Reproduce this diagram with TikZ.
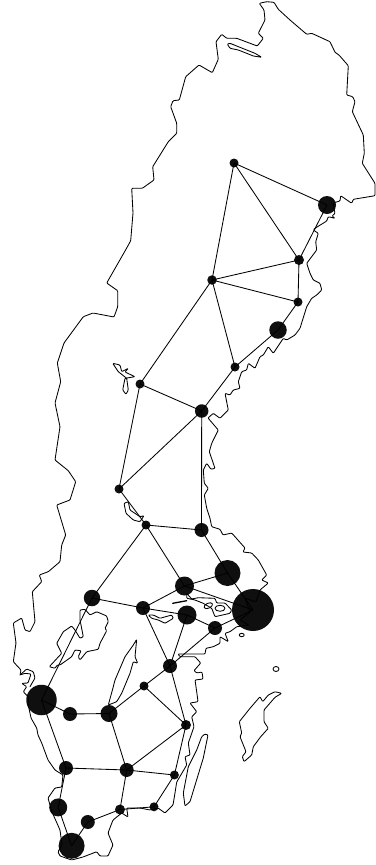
\documentclass[tikz,border=0pt]{standalone}
\definecolor{hubfill}{HTML}{0F0F0F}
\tikzset{
  hub/.style={circle,fill=hubfill,draw=none,inner sep=0pt,outer sep=0pt,minimum size=#1},
  link/.style={draw=black,line width=0.85pt},
  coast/.style={draw=black,line width=0.85pt,line join=round,line cap=round,rounded corners=0.9pt},
}
\begin{document}
\begin{tikzpicture}[x=1pt,y=-1pt]
\useasboundingbox (0,0) rectangle (375,865);
\fill[white] (0,0) rectangle (375,865);
% hubs
\foreach \n/\x/\y/\d in {
 a/234/163/9, b/327/205/18, c/299/260/10, d/298/302/9, e/212/280/9.5, f/278/330/17.5,
 g/235/367/9, h/140/384/9, i/201.7/411/13.5, j/119/489/9, k/146/525/9, l/201.5/530/14,
 m/227.5/573/26, n/184.5/586/19, o/92/598/16.5, p/143/608/14, q/187/615/19, r/253/610/42,
 s/215/628/14, t/170/666/14, u/144/686/9, v/41.5/700/30.5, w/70/714/14, x/109/713.5/17,
 y/186/725/10, z/66/768/14, aa/126.7/770/14, ab/174.4/775/9, ac/58.2/807.4/18, ad/87.8/822/14,
 ae/120/809.5/10, af/154/806.8/9, ag/71.6/845.8/26}
 {\node[hub=\d pt] (\n) at (\x,\y) {};}
% links
\foreach \s/\t in {a/b,a/c,a/e,b/c,c/e,c/d,d/e,d/f,e/g,e/h,f/g,g/i,h/i,h/j,i/j,i/l,j/k,k/l,k/o,k/n,
 l/m,m/n,m/r,n/p,n/r,o/p,p/q,q/s,s/r,p/t,q/t,s/t,o/v,t/u,t/y,u/x,u/y,v/w,v/z,w/x,x/aa,y/aa,y/ab,
 z/aa,aa/ab,z/ac,aa/ae,ab/af,ac/ag,ad/ag,ad/ae,ae/af}
 {\draw[link] (\s.center) -- (\t.center);}
% mainland
\draw[coast] (259.3,3.3) -- (266.7,1.7) -- (274,2.3) -- (278.3,9.3) -- (290,20) -- (306.7,34.3) -- (311.7,33.3)
 -- (330,41.7) -- (335,52.3) -- (339,55) -- (348.3,65.7) -- (346.7,95) -- (352.7,96.7) -- (355,101.7)
 -- (352.3,111.7) -- (363.3,135) -- (364.3,153.3) -- (362.3,163.3) -- (375,183.3) -- (375,195.7)
 -- (353.3,199.3) -- (351.7,203.3) -- (340.7,195.7) -- (340,201) -- (333,203)
 -- (335,213.3) -- (332,216) -- (335,218.3) -- (328.3,216.7) -- (326.7,221) -- (315,228.3) -- (313.3,230) -- (318.3,233.3)
 -- (315.7,241.7) -- (316.7,250) -- (306.7,263.3) -- (310,273.3) -- (313.3,280) -- (320,283.3) -- (321.7,290)
 -- (316.7,295) -- (311.7,298.3) -- (306.7,306.7) -- (300,328.3) -- (295,335)
 -- (286.7,340) -- (283.3,338.3) -- (273.3,353.3) -- (268.3,346.7) -- (263.3,355) -- (260,356.7)
 -- (255,368.3) -- (248.3,363.3) -- (246.7,370) -- (241.7,371.7) -- (238.3,381.7) -- (240,388.3) -- (233.3,390)
 -- (230,395) -- (225,393.3) -- (228.3,410) -- (220,418.3) -- (213.3,413.3) -- (208,418) -- (218.3,430)
 -- (211.7,443.3) -- (209.3,451.7) -- (215,468.3) -- (211,469.3) -- (206.7,463.3) -- (203.3,470) -- (204.3,483.3)
 -- (208.3,488.3) -- (204.3,495) -- (206.7,508.3) -- (210,518.3) -- (211.7,526.7)
 -- (220,529.3) -- (223,535) -- (231.7,533) -- (245,548) -- (243,552) -- (251.7,553) -- (258.3,560) -- (266.7,575)
 -- (261.7,580) -- (268.3,583) -- (260,590) -- (256,602) -- (245,598) -- (250,612) -- (240,620) -- (249,625)
 -- (236.7,626.7) -- (230,631.7) -- (225,633.3) -- (228.3,641.7) -- (220,636.7) -- (220,643.3) -- (213.3,646.7)
 -- (206,648.3) -- (205,654) -- (183,654)
 -- (178,654) -- (180,656.7) -- (195,656.7) -- (200.7,663) -- (194,670.7) -- (197,673) -- (202,672)
 -- (203,679) -- (195,680) -- (196.7,691.7) -- (198,701.7) -- (190,703) -- (196.7,711.7) -- (191.7,716.7)
 -- (194,726.7) -- (188.3,743) -- (190,755) -- (185,756.7) -- (186.7,765) -- (176.7,782) -- (175,793)
 -- (173,805) -- (165,813) -- (158,808) -- (150,810) -- (140,808) -- (126.7,808) -- (128,817) -- (121.7,813)
 -- (113,820) -- (108,833) -- (113,845) -- (108,856) -- (100,856) -- (96.7,851.7) -- (83,857) -- (71.7,860)
 -- (60,856) -- (58,851.7) -- (62,845) -- (60,830) -- (52,812) -- (48,798) -- (55,788) -- (61.7,787)
 -- (63,775) -- (55,770) -- (48,760) -- (41.7,743) -- (38,735) -- (36.7,728) -- (31,718) -- (28.3,705)
 -- (28.3,696.7) -- (23.3,691.7) -- (26.7,686.7) -- (21.7,683.3) -- (28,683) -- (31,674) -- (25,673.3) -- (20,675)
 -- (21,670) -- (13.3,661.7) -- (16,643) -- (13.3,623)
 -- (21.7,618) -- (25,630) -- (30,631.7) -- (35,621.7) -- (32.3,591.7) -- (41.7,581.7) -- (39.3,575)
 -- (48.3,571.7) -- (60,561.7) -- (61.7,545) -- (65.7,535) -- (56.7,505) -- (70,500) -- (75.7,481.7)
 -- (68.3,470.7) -- (55,460) -- (60,426.7) -- (55,403) -- (60.7,381.7) -- (57.3,363) -- (64,343)
 -- (83.3,316.7) -- (93,313) -- (114,317) -- (117.7,306.7) -- (117.7,290.7) -- (106.7,283) -- (126.7,248)
 -- (130.7,240.7) -- (133,213) -- (131.7,188.3) -- (142.3,188.3) -- (154,180) -- (152.7,166.7)
 -- (168.3,141.7) -- (176.7,133.3) -- (176.7,123.3) -- (170.7,106.7) -- (173,100.7) -- (179.3,100)
 -- (185.7,76.7) -- (199,65) -- (212.3,72.7) -- (218.3,59.3) -- (216,41.7) -- (221.7,34.3) -- (226.7,38.3)
 -- (236.7,38.3) -- (257.3,46) -- (263.3,38.3) -- (258.3,33.3) -- (265,20) -- (264,10) -- cycle;
% fjord loop near Goteborg
\draw[coast] (20,675) -- (26.7,669) -- (33.3,671.7) -- (35,678) -- (30,686.7);
% lakes
\draw[coast] (227.3,44) -- (230,48.3) -- (238.3,50) -- (253.3,56) -- (261.7,57.3) -- (255,53.3) -- (246.7,50) -- (230,43.3) -- cycle;
\draw[coast] (112.7,363.3) -- (120,365) -- (121.7,371.7) -- (128.3,368.3) -- (125,372) -- (135,376.7) -- (125,378.3) -- (122.7,390)
 -- (126,394.3) -- (128.3,390) -- (126.7,378.3) -- (118.3,371.7) -- cycle;
\draw[coast] (124,503.3) -- (128.3,501.7) -- (130,510) -- (140,516.7) -- (144,515.7) -- (140,521.7) -- (133.3,520) -- (126,513.3) -- cycle;
\draw[coast] (49.3,666.7) -- (61.7,653.3) -- (56.7,643.3) -- (63.3,631.7) -- (71.7,626) -- (75,630) -- (80,638.3) -- (83.3,636.7)
 -- (80,620) -- (80,610) -- (85,609.3) -- (90,615) -- (96.7,611.7) -- (106.7,616) -- (108.3,621.7) -- (105,628.3) -- (106.7,630.7)
 -- (100,643.3) -- (98.3,649.3) -- (86.7,651.7) -- (80,660) -- (78.3,656.7) -- (81,650.7) -- (75,650) -- (71.7,656.7) -- (60,665)
 -- (57.3,665) -- (55,668.3) -- cycle;
\draw[coast] (136.7,639.3) -- (133.3,645) -- (125,656.7) -- (115,680) -- (113.3,686.7) -- (108.3,705) -- (116.7,701.7) -- (121.7,693.3)
 -- (130,673.3) -- (133.3,661.7) -- (137.7,663.3) -- (135,656.7) -- cycle;
\draw[coast] (148.3,615) -- (153.3,615) -- (160,618.3) -- (171.7,615) -- (173.3,618.3) -- (165,623.3) -- (158.3,620) -- (151.7,618.3) -- cycle;
% Malaren
\draw[coast,line width=1.3pt] (172.7,603.3) -- (186.7,600.7);
\draw[coast] (186.7,593.3) -- (191.7,599) -- (198.3,597.7) -- (215,598.3) -- (216.7,603) -- (225,603) -- (231.7,610) -- (230,613.3) -- (215,616.7)
 -- (211.7,608.3) -- (203.3,603.3) -- (195,600) -- (186.7,598.3) -- cycle;
\draw[coast,rotate around={25:(208.3,605.7)}] (208.3,605.7) ellipse (4.5 and 2.5);
\draw[coast] (220,608.3) ellipse (5 and 3);
% Oland, Gotland, Faro
\draw[coast] (205,734) -- (208,735) -- (203.3,758) -- (190,801.7) -- (185,806) -- (183.3,793) -- (188.3,766.7) -- (196.7,750) -- (201.7,736.7) -- cycle;
\draw[coast] (275,691.7) -- (281.7,693.3) -- (275,697.3) -- (264,710) -- (264,721.7) -- (268.3,728.3) -- (260.7,736.7)
 -- (253.3,746.7) -- (251.7,755) -- (244,761.7) -- (242.3,756.7) -- (246,751.7) -- (240,736.7) -- (241.7,733) -- (239.3,721.7)
 -- (250,708.3) -- (260,696.7) -- (262.7,701.7) -- (268.3,695) -- cycle;
\draw[coast] (276,669) ellipse (3 and 2.5);
\draw[coast] (241.7,635) ellipse (2.5 and 1.7);
\end{tikzpicture}
\end{document}
